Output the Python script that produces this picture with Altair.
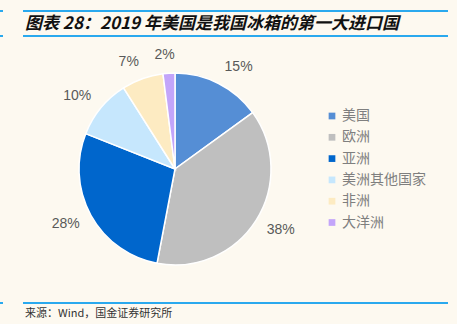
import altair as alt
import pandas as pd

categories = ["美国", "欧洲", "亚洲", "美洲其他国家", "非洲", "大洋洲"]
values = [15, 38, 28, 10, 7, 2]
labels = ["15%", "38%", "28%", "10%", "7%", "2%"]
colors = ["#558ED5", "#BFBFBF", "#0066CC", "#C6E7FD", "#FDEBC2", "#C3A5FA"]

title_text = "图表 28：2019 年美国是我国冰箱的第一大进口国"
source_text = "来源：Wind，国金证券研究所"

df = pd.DataFrame({"cat": categories, "val": values, "lab": labels,
                   "ord": list(range(len(categories)))})
dummy = pd.DataFrame({"a": [0]})

CX, CY, R = 175, 169, 96
LINE = "#2AA9EE"

pie = alt.Chart(df).mark_arc(outerRadius=R, stroke="white", strokeWidth=1.5).encode(
    theta=alt.Theta("val:Q", stack=True),
    order=alt.Order("ord:Q"),
    x=alt.value(CX), y=alt.value(CY),
    color=alt.Color("cat:N", sort=categories,
                    scale=alt.Scale(domain=categories, range=colors),
                    legend=alt.Legend(title=None, orient="none", legendX=325, legendY=109,
                                      symbolType="square", symbolSize=45,
                                      symbolStrokeWidth=0,
                                      labelFont="Noto Sans CJK SC", labelFontSize=14,
                                      labelColor="#7F7F7F", rowPadding=7.3,
                                      labelOffset=3)),
)

# Excel-like "outside end" labels: anchor just outside the rim at the slice's
# mid-angle, then the label box is pushed outward by its half width / height.
text = alt.Chart(df).mark_text(font="Liberation Sans", fontSize=14, color="#595959").transform_window(
    cum="sum(val)", sort=[alt.SortField("ord")], frame=[None, 0]
).transform_joinaggregate(total="sum(val)").transform_calculate(
    mid="(datum.cum - datum.val/2) / datum.total * 2 * PI",
    hw="length(datum.lab) * 4.85",
).transform_calculate(
    px=f"{CX} + {R + 12} * sin(datum.mid) + datum.hw * clamp(sin(datum.mid) * 6, -1, 1)",
    py=f"{CY} - {R + 12} * cos(datum.mid) - 6 * cos(datum.mid)",
).encode(
    x=alt.X("px:Q", scale=None),
    y=alt.Y("py:Q", scale=None),
    text="lab:N")

def hline(x1, x2, y):
    return alt.Chart(dummy).mark_rule(color=LINE, strokeWidth=2).encode(
        x=alt.value(x1), x2=alt.value(x2), y=alt.value(y))

lines = [hline(23, 448, 11), hline(0, 3, 11), hline(23, 448, 36), hline(0, 3, 36),
         hline(23, 448, 303), hline(0, 3, 303)]

title = alt.Chart(dummy).mark_text(
    text=title_text, align="left", baseline="middle", font="Noto Sans CJK SC",
    fontSize=17, fontWeight="bold", fontStyle="italic", color="#111111"
).encode(x=alt.value(25), y=alt.value(24))

source = alt.Chart(dummy).mark_text(
    text=source_text, align="left", baseline="middle", font="Noto Sans CJK SC",
    fontSize=11, color="#333333"
).encode(x=alt.value(25), y=alt.value(314))

chart = alt.layer(*lines, title, source, pie, text).properties(
    width=457, height=324, background="#FDF9F0", padding=0,
    autosize=alt.AutoSizeParams(type="none")
).configure_view(stroke=None)

chart.save("out.html", embed_options={"renderer": "svg", "actions": False})
